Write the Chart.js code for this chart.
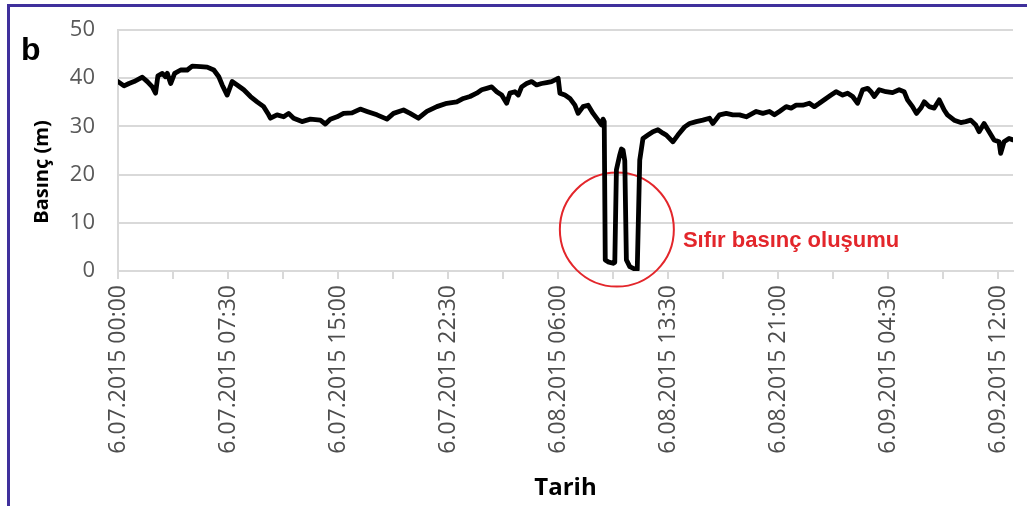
<!DOCTYPE html>
<html>
<head>
<meta charset="utf-8">
<script src="https://cdn.jsdelivr.net/npm/chart.js@4.4.1/dist/chart.umd.min.js"></script>
<style>
  html, body { margin: 0; padding: 0; background: #fff; width: 1027px; height: 506px; overflow: hidden; }
  #frame { position: absolute; left: 7px; top: 4px; right: 0; bottom: 0;
           border-top: 3px solid #3f309c; border-left: 3px solid #3f309c; }
  #c { position: absolute; left: 0; top: 0; }
</style>
</head>
<body>
<div id="frame"></div>
<canvas id="c" width="1027" height="506"></canvas>
<script>
// Elapsed time (hours from 6.07.2015 00:00) of each pressure reading
const hours = [0,0.41,0.75,1.09,1.66,2.0,2.34,2.56,2.72,3.02,
  3.24,3.36,3.59,3.86,4.27,4.72,5.06,5.63,6.08,6.53,
  6.87,7.1,7.44,7.78,8.12,8.57,9.03,9.48,9.93,10.27,
  10.39,10.84,11.29,11.63,11.97,12.54,13.11,13.79,14.13,14.47,
  14.93,15.37,15.95,16.51,16.97,17.65,18.33,18.78,19.46,19.91,
  20.48,21.05,21.73,22.41,23.09,23.54,23.99,24.45,24.79,25.13,
  25.47,25.81,26.15,26.49,26.71,27.05,27.28,27.51,27.85,28.19,
  28.53,28.87,29.21,29.55,29.89,30.0,30.12,30.46,30.8,31.14,
  31.36,31.7,32.04,32.38,32.72,32.95,33.06,33.14,33.21,33.4,
  33.74,33.86,33.97,34.2,34.31,34.42,34.54,34.65,34.88,35.22,
  35.39,35.56,35.78,36.12,36.46,36.8,37.14,37.37,37.82,38.16,
  38.62,38.96,39.41,39.86,40.32,40.54,41.0,41.46,41.9,42.36,
  42.82,43.5,43.95,44.4,44.74,45.08,45.54,45.88,46.22,46.67,
  47.12,47.46,47.8,48.26,48.6,48.94,49.39,49.73,50.07,50.41,
  50.75,51.09,51.32,51.54,51.88,52.34,52.79,53.24,53.58,53.81,
  54.15,54.42,54.72,54.95,55.29,55.63,55.97,56.31,56.53,56.99,
  57.44,57.78,58.12,58.46,58.69,59.03,59.37,59.71,60.05,60.16,
  60.39,60.73,61.0];

// Pressure head (m)
const pressure = [39.3,38.4,38.9,39.3,40.2,39.3,38.2,36.9,40.5,41.0,
  40.3,41.0,38.9,41.0,41.7,41.7,42.5,42.4,42.3,41.7,
  40.3,38.6,36.5,39.3,38.6,37.6,36.2,35.1,34.1,32.4,
  31.7,32.4,32.0,32.7,31.7,31.0,31.5,31.3,30.5,31.5,
  32.0,32.7,32.8,33.6,33.1,32.4,31.5,32.7,33.4,32.7,
  31.7,33.1,34.1,34.8,35.1,35.8,36.2,36.9,37.6,37.9,
  38.2,37.2,36.5,34.8,36.9,37.2,36.5,38.2,38.9,39.3,
  38.6,38.9,39.1,39.3,39.8,40.0,36.9,36.5,35.8,34.4,
  32.7,34.1,34.4,32.7,31.3,30.3,31.5,31.0,2.3,1.9,
  1.6,1.8,21.0,24.1,25.3,25.1,22.9,2.3,0.9,0.4,
  0.3,23.0,27.5,28.2,28.9,29.3,28.6,28.2,26.8,28.2,
  29.9,30.6,31.0,31.3,31.7,30.6,32.4,32.7,32.4,32.4,
  32.0,33.1,32.7,33.1,32.4,33.1,34.1,33.8,34.4,34.4,
  34.8,34.1,34.8,35.8,36.5,37.2,36.5,36.9,36.2,34.8,
  37.6,37.9,37.2,36.2,37.6,37.2,37.0,37.6,37.2,35.5,
  34.1,32.7,33.8,35.1,34.1,33.8,35.5,33.4,32.4,31.3,
  30.8,31.0,31.3,30.3,28.9,30.6,28.9,27.2,26.8,24.4,
  26.8,27.5,27.2];

// Tick marks every 3:45, labels every 7:30
const tickHours = [0,3.75,7.5,11.25,15,18.75,22.5,26.25,30,33.75,37.5,41.25,45,48.75,52.5,56.25,60];
const labelHours = [0,7.5,15,22.5,30,37.5,45,52.5,60];
const labelTexts = ['6.07.2015 00:00','6.07.2015 07:30','6.07.2015 15:00','6.07.2015 22:30',
  '6.08.2015 06:00','6.08.2015 13:30','6.08.2015 21:00','6.09.2015 04:30','6.09.2015 12:00'];
const yTicks = [0,10,20,30,40,50];

// Zero-pressure event marker (data coordinates)
const zeroEvent = { hour: 34.0, value: 8.6, textHour: 38.5, textValue: 6.2, text: 'Sıfır basınç oluşumu' };

const RED = '#e3262b';

const overlay = {
  id: 'overlay',
  beforeDatasetsDraw(chart) {
    const { ctx, scales: { x, y } } = chart;
    ctx.save();
    ctx.strokeStyle = RED;
    ctx.lineWidth = 2;
    ctx.beginPath();
    ctx.arc(x.getPixelForValue(zeroEvent.hour), y.getPixelForValue(zeroEvent.value), 57, 0, Math.PI * 2);
    ctx.stroke();
    ctx.restore();
  },
  afterDraw(chart) {
    const { ctx, scales: { x, y } } = chart;
    ctx.save();
    // event caption
    ctx.fillStyle = RED;
    ctx.font = 'bold 22px "Liberation Sans", Arial, sans-serif';
    ctx.textAlign = 'left';
    ctx.textBaseline = 'middle';
    ctx.fillText(zeroEvent.text, x.getPixelForValue(zeroEvent.textHour), y.getPixelForValue(zeroEvent.textValue));
    // panel letter
    ctx.fillStyle = '#000';
    ctx.font = 'bold 32px "Liberation Sans", Arial, sans-serif';
    ctx.textBaseline = 'alphabetic';
    ctx.fillText('b', 21, 60);
    // y-axis title
    ctx.translate(42, 172);
    ctx.rotate(-Math.PI / 2);
    ctx.textAlign = 'center';
    ctx.textBaseline = 'middle';
    ctx.font = 'bold 20px "Open Sans", "Liberation Sans", sans-serif';
    ctx.fillText('Basınç (m)', 0, 0);
    ctx.restore();
  }
};

new Chart(document.getElementById('c'), {
  type: 'line',
  data: {
    datasets: [{
      data: hours.map((h, i) => ({ x: h, y: pressure[i] })),
      borderColor: '#000',
      borderWidth: 4.8,
      pointRadius: 0,
      tension: 0,
      borderJoinStyle: 'round',
      borderCapStyle: 'round',
      fill: false
    }]
  },
  options: {
    responsive: false,
    animation: false,
    devicePixelRatio: 1,
    layout: { padding: { top: 30, right: 14, bottom: 0, left: 0 } },
    plugins: { legend: { display: false }, tooltip: { enabled: false } },
    scales: {
      x: {
        type: 'linear',
        min: 0,
        max: 61,
        afterBuildTicks: s => { s.ticks = tickHours.map(v => ({ value: v })); },
        afterFit: s => { s.height = 235; s.paddingLeft = 0; s.paddingRight = 0; },
        border: { display: true, color: '#d9d9d9', width: 2 },
        grid: { drawOnChartArea: false, drawTicks: true, tickLength: 8, color: '#d9d9d9', lineWidth: 2 },
        ticks: {
          autoSkip: false,
          maxRotation: 90,
          minRotation: 90,
          padding: 6,
          color: '#4d4d4d',
          font: { family: '"Open Sans", "Liberation Sans", sans-serif', size: 23 },
          callback: v => {
            const i = labelHours.indexOf(v);
            return i >= 0 ? labelTexts[i] : '';
          }
        },
        title: {
          display: true,
          text: 'Tarih',
          color: '#000',
          font: { family: '"Open Sans", "Liberation Sans", sans-serif', size: 24, weight: 'bold' },
          padding: { top: 0, bottom: 3 }
        }
      },
      y: {
        min: 0,
        max: 50,
        afterBuildTicks: s => { s.ticks = yTicks.map(v => ({ value: v })); },
        afterFit: s => { s.width = 118; s.paddingTop = 0; s.paddingBottom = 0; },
        border: { display: true, color: '#d9d9d9', width: 2 },
        grid: { color: '#d9d9d9', lineWidth: 2, drawTicks: false },
        ticks: {
          padding: 23,
          color: '#595959',
          font: { family: '"Open Sans", "Liberation Sans", sans-serif', size: 22 }
        }
      }
    }
  },
  plugins: [overlay]
});
</script>
</body>
</html>
